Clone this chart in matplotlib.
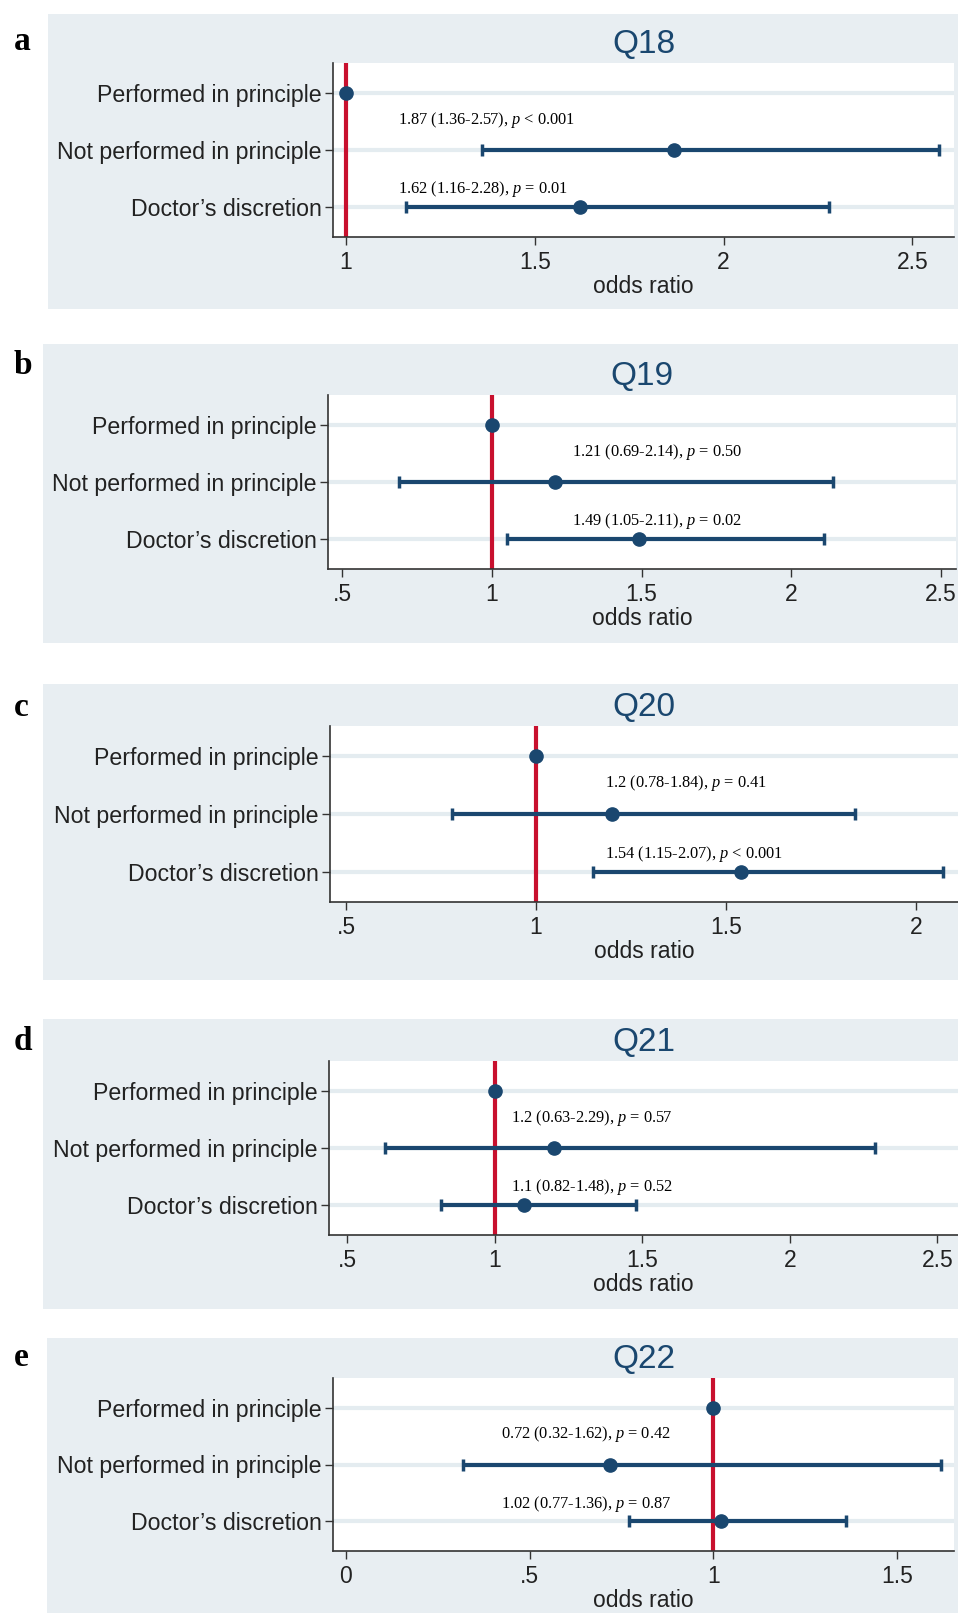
import matplotlib
matplotlib.use("Agg")
import matplotlib.pyplot as plt
import matplotlib.transforms as mtransforms
from matplotlib.patches import Rectangle

plt.rcParams['font.family'] = ['Liberation Sans', 'DejaVu Sans']
plt.rcParams['mathtext.fontset'] = 'custom'
plt.rcParams['mathtext.rm'] = 'Liberation Serif'
plt.rcParams['mathtext.it'] = 'Liberation Serif:italic'

# ---------------- data ----------------
categories = ["Performed in principle", "Not performed in principle", "Doctor\u2019s discretion"]
panel_letters = ["a", "b", "c", "d", "e"]
questions = ["Q18", "Q19", "Q20", "Q21", "Q22"]

or_not = [1.87, 1.21, 1.2, 1.2, 0.72]
lo_not = [1.36, 0.69, 0.78, 0.63, 0.32]
hi_not = [2.57, 2.14, 1.84, 2.29, 1.62]
p_not = ["< 0.001", "= 0.50", "= 0.41", "= 0.57", "= 0.42"]

or_doc = [1.62, 1.49, 1.54, 1.1, 1.02]
lo_doc = [1.16, 1.05, 1.15, 0.82, 0.77]
hi_doc = [2.28, 2.11, 2.07, 1.48, 1.36]
p_doc = ["= 0.01", "= 0.02", "< 0.001", "= 0.52", "= 0.87"]

or_text_not = ["1.87", "1.21", "1.2", "1.2", "0.72"]
or_text_doc = ["1.62", "1.49", "1.54", "1.1", "1.02"]

ref_or = 1.0

xticks = [[1, 1.5, 2, 2.5], [.5, 1, 1.5, 2, 2.5], [.5, 1, 1.5, 2], [.5, 1, 1.5, 2, 2.5], [0, .5, 1, 1.5]]
xticklabels = [["1", "1.5", "2", "2.5"], [".5", "1", "1.5", "2", "2.5"], [".5", "1", "1.5", "2"],
               [".5", "1", "1.5", "2", "2.5"], ["0", ".5", "1", "1.5"]]

# ---------------- layout (pixels) ----------------
W, H = 958, 1613
xlims = [(0.966, 2.61), (0.453, 2.55), (0.458, 2.11), (0.439, 2.57), (-0.035, 1.655)]
grey_boxes = [(48, 14, 958, 309), (43, 344, 958, 643), (43, 684, 958, 980), (43, 1019, 958, 1309), (47, 1338, 958, 1613)]
ax_boxes = [(333, 63, 954, 237), (328, 395, 956, 569), (330, 726, 958, 902), (329, 1061, 958, 1235), (333, 1378, 954, 1551)]
letter_y = [41, 366, 708, 1041, 1358]
annot_x = [0.105, 0.389, 0.438, 0.289, 0.271]

navy = "#1A476F"
red = "#C8102E"
bg = "#E8EEF2"
grid = "#E4ECF0"

fig = plt.figure(figsize=(W / 100, H / 100), dpi=100)
fig.patch.set_facecolor("white")

for i in range(5):
    gx0, gy0, gx1, gy1 = grey_boxes[i]
    fig.patches.append(Rectangle((gx0 / W, 1 - gy1 / H), (gx1 - gx0) / W, (gy1 - gy0) / H,
                                 transform=fig.transFigure, facecolor=bg, edgecolor="none", zorder=-10))
    fig.text(14 / W, 1 - letter_y[i] / H, panel_letters[i], family="Liberation Serif", weight="bold",
             fontsize=24, va="center", ha="left")

    x0, y0, x1, y1 = ax_boxes[i]
    ax = fig.add_axes([x0 / W, 1 - y1 / H, (x1 - x0) / W, (y1 - y0) / H])
    ax.set_zorder(1)
    ax.set_facecolor("white")
    ypos = [1, 2, 3]
    for y in ypos:
        ax.axhline(y, color=grid, lw=3, zorder=1)
    ax.axvline(ref_or, color=red, lw=3, zorder=2)

    ors = [ref_or, or_not[i], or_doc[i]]
    ax.errorbar([or_not[i], or_doc[i]], [2, 3],
                xerr=[[or_not[i] - lo_not[i], or_doc[i] - lo_doc[i]],
                      [hi_not[i] - or_not[i], hi_doc[i] - or_doc[i]]],
                fmt="none", ecolor=navy, elinewidth=3, capsize=4.5, capthick=2.5, zorder=3)
    ax.plot(ors, ypos, "o", color=navy, ms=9.5, zorder=4, ls="none")

    trans = mtransforms.blended_transform_factory(ax.transAxes, ax.transData)
    ax.text(annot_x[i], 2 - 0.53, f"{or_text_not[i]} ({lo_not[i]}-{hi_not[i]}), $p$ {p_not[i]}",
            transform=trans, family="Liberation Serif", fontsize=11.8, va="center", ha="left", zorder=5)
    ax.text(annot_x[i], 3 - 0.31, f"{or_text_doc[i]} ({lo_doc[i]}-{hi_doc[i]}), $p$ {p_doc[i]}",
            transform=trans, family="Liberation Serif", fontsize=11.8, va="center", ha="left", zorder=5)

    ax.set_ylim(3.52, 0.48)
    ax.set_xlim(*xlims[i])
    ax.set_yticks(ypos)
    ax.set_yticklabels(categories, fontsize=16.7, color="#222222")
    ax.set_xticks(xticks[i])
    ax.set_xticklabels(xticklabels[i], fontsize=16.5, color="#222222")
    ax.tick_params(axis="y", length=6, width=1, color="#333333", pad=2)
    ax.tick_params(axis="x", length=6, width=1, color="#333333", pad=4)
    for s in ["top", "right"]:
        ax.spines[s].set_visible(False)
    for s in ["left", "bottom"]:
        ax.spines[s].set_color("#333333")
        ax.spines[s].set_linewidth(1.2)
    ax.set_xlabel("odds ratio", fontsize=16.5, color="#222222", labelpad=1)
    ax.set_title(questions[i], fontsize=24, color=navy, pad=7)

fig.savefig("out.png", dpi=100, facecolor="white")
